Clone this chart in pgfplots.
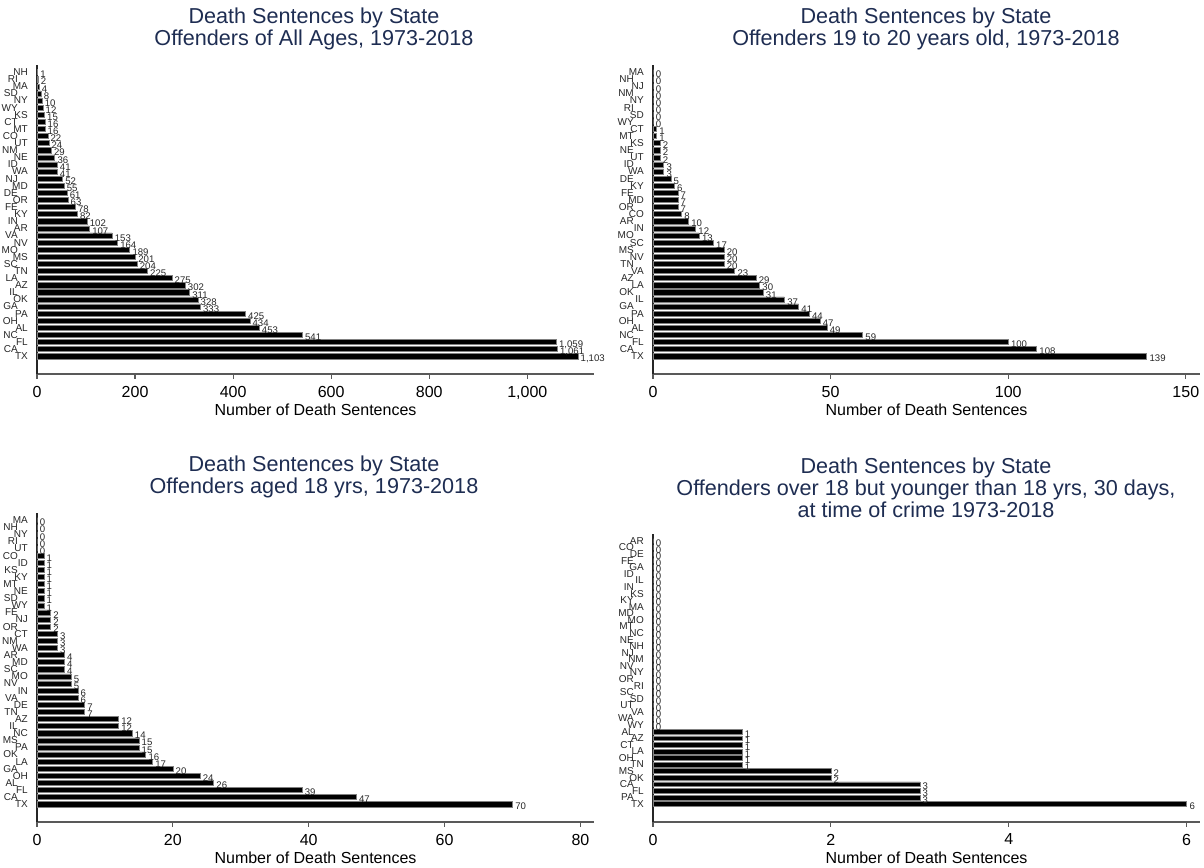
\documentclass[border=0pt]{standalone}
\usepackage{pgfplots}
\pgfplotsset{compat=1.18}
\usepackage{fontspec}
\setmainfont{Liberation Sans}
\definecolor{ttl}{RGB}{30,45,82}
\newcommand\s[1]{#1\hspace*{5pt}}
\pgfplotsset{
 /pgf/number format/assume math mode=true,
 dsbar/.style={
  xbar, scale only axis, clip=false,
  axis x line*=bottom, axis y line*=left,
  xmin=0, ymax=42, ytick={1,...,41},
  scaled x ticks=false,
  y axis line style={black!85, line width=0.7pt},
  x axis line style={black!65, line width=0.6pt},
  ytick style={draw=none},
  xtick align=outside, major tick length=2.4pt,
  xtick style={black!65, line width=0.6pt},
  bar width=0.72,
  every axis plot post/.append style={fill=black, draw=black!50, line width=0.25pt},
  point meta=x, nodes near coords,
  every node near coord/.append style={font=\fontsize{4.8}{5}\selectfont, anchor=west, xshift=0.8pt, yshift=-1.2pt, text=black!85, inner sep=0.5pt},
  yticklabel style={font=\fontsize{5}{5.5}\selectfont, inner sep=0pt, xshift=-2pt, text=black!85},
  xticklabel style={font=\fontsize{8}{9}\selectfont, text=black},
  xlabel={Number of Death Sentences},
  xlabel style={font=\fontsize{8}{9}\selectfont, at={(axis description cs:0.5,0)}, anchor=base, yshift=-20.8pt},
 }
}
\begin{document}
\begin{tikzpicture}
\useasboundingbox (0,0) rectangle (602pt,433.5pt);
% Panel 1
\begin{axis}[dsbar, at={(18.5pt,246.5pt)}, anchor=south west, width=278.5pt, height=154.5pt,
  ymin=-1.5, xmax=1136, xtick={0,200,400,600,800,1000},
  yticklabels={TX,\s{CA},FL,\s{NC},AL,\s{OH},PA,\s{GA},OK,\s{IL},AZ,\s{LA},TN,\s{SC},MS,\s{MO},NV,\s{VA},AR,\s{IN},KY,\s{FE},OR,\s{DE},MD,\s{NJ},WA,\s{ID},NE,\s{NM},UT,\s{CO},MT,\s{CT},KS,\s{WY},NY,\s{SD},MA,\s{RI},NH}]
\addplot coordinates {(1103,1) (1061,2) (1059,3) (541,4) (453,5) (434,6) (425,7) (333,8) (328,9) (311,10) (302,11) (275,12) (225,13) (204,14) (201,15) (189,16) (164,17) (153,18) (107,19) (102,20) (82,21) (78,22) (63,23) (61,24) (55,25) (52,26) (41,27) (41,28) (36,29) (29,30) (24,31) (22,32) (16,33) (16,34) (15,35) (12,36) (10,37) (8,38) (4,39) (2,40) (1,41)};
\end{axis}
% Panel 2
\begin{axis}[dsbar, at={(326.5pt,246.5pt)}, anchor=south west, width=273.5pt, height=154.5pt,
  ymin=-1.5, xmax=154, xtick={0,50,100,150},
  yticklabels={TX,\s{CA},FL,\s{NC},AL,\s{OH},PA,\s{GA},IL,\s{OK},LA,\s{AZ},VA,\s{TN},NV,\s{MS},SC,\s{MO},IN,\s{AR},CO,\s{OR},MD,\s{FE},KY,\s{DE},WA,\s{ID},UT,\s{NE},KS,\s{MT},CT,\s{WY},SD,\s{RI},NY,\s{NM},NJ,\s{NH},MA}]
\addplot coordinates {(139,1) (108,2) (100,3) (59,4) (49,5) (47,6) (44,7) (41,8) (37,9) (31,10) (30,11) (29,12) (23,13) (20,14) (20,15) (20,16) (17,17) (13,18) (12,19) (10,20) (8,21) (7,22) (7,23) (7,24) (6,25) (5,26) (3,27) (3,28) (2,29) (2,30) (2,31) (1,32) (1,33) (0,34) (0,35) (0,36) (0,37) (0,38) (0,39) (0,40) (0,41)};
\end{axis}
% Panel 3
\begin{axis}[dsbar, at={(18.5pt,22.5pt)}, anchor=south west, width=278.5pt, height=154.5pt,
  ymin=-1.5, xmax=82, xtick={0,20,40,60,80},
  yticklabels={TX,\s{CA},FL,\s{AL},OH,\s{GA},LA,\s{OK},PA,\s{MS},NC,\s{IL},AZ,\s{TN},DE,\s{VA},IN,\s{NV},MO,\s{SC},MD,\s{AR},WA,\s{NM},CT,\s{OR},NJ,\s{FE},WY,\s{SD},NE,\s{MT},KY,\s{KS},ID,\s{CO},UT,\s{RI},NY,\s{NH},MA}]
\addplot coordinates {(70,1) (47,2) (39,3) (26,4) (24,5) (20,6) (17,7) (16,8) (15,9) (15,10) (14,11) (12,12) (12,13) (7,14) (7,15) (6,16) (6,17) (5,18) (5,19) (4,20) (4,21) (4,22) (3,23) (3,24) (3,25) (2,26) (2,27) (2,28) (1,29) (1,30) (1,31) (1,32) (1,33) (1,34) (1,35) (1,36) (0,37) (0,38) (0,39) (0,40) (0,41)};
\end{axis}
% Panel 4
\begin{axis}[dsbar, at={(326.5pt,22.5pt)}, anchor=south west, width=273.5pt, height=143.8pt,
  ymin=-1.74, xmax=6.15, xtick={0,2,4,6},
  yticklabels={TX,\s{PA},FL,\s{CA},OK,\s{MS},TN,\s{OH},LA,\s{CT},AZ,\s{AL},WY,\s{WA},VA,\s{UT},SD,\s{SC},RI,\s{OR},NY,\s{NV},NM,\s{NJ},NH,\s{NE},NC,\s{MT},MO,\s{MD},MA,\s{KY},KS,\s{IN},IL,\s{ID},GA,\s{FE},DE,\s{CO},AR}]
\addplot coordinates {(6,1) (3,2) (3,3) (3,4) (2,5) (2,6) (1,7) (1,8) (1,9) (1,10) (1,11) (1,12) (0,13) (0,14) (0,15) (0,16) (0,17) (0,18) (0,19) (0,20) (0,21) (0,22) (0,23) (0,24) (0,25) (0,26) (0,27) (0,28) (0,29) (0,30) (0,31) (0,32) (0,33) (0,34) (0,35) (0,36) (0,37) (0,38) (0,39) (0,40) (0,41)};
\end{axis}
% Titles
\node[align=center, text=ttl, font=\fontsize{10.8}{11}\selectfont] at (157pt,419pt) {Death Sentences by State\\Offenders of All Ages, 1973-2018};
\node[align=center, text=ttl, font=\fontsize{10.8}{11}\selectfont] at (463pt,419pt) {Death Sentences by State\\Offenders 19 to 20 years old, 1973-2018};
\node[align=center, text=ttl, font=\fontsize{10.8}{11}\selectfont] at (157pt,195pt) {Death Sentences by State\\Offenders aged 18 yrs, 1973-2018};
\node[align=center, text=ttl, font=\fontsize{10.8}{11}\selectfont] at (463pt,189.75pt) {Death Sentences by State\\Offenders over 18 but younger than 18 yrs, 30 days,\\at time of crime 1973-2018};
\end{tikzpicture}
\end{document}
